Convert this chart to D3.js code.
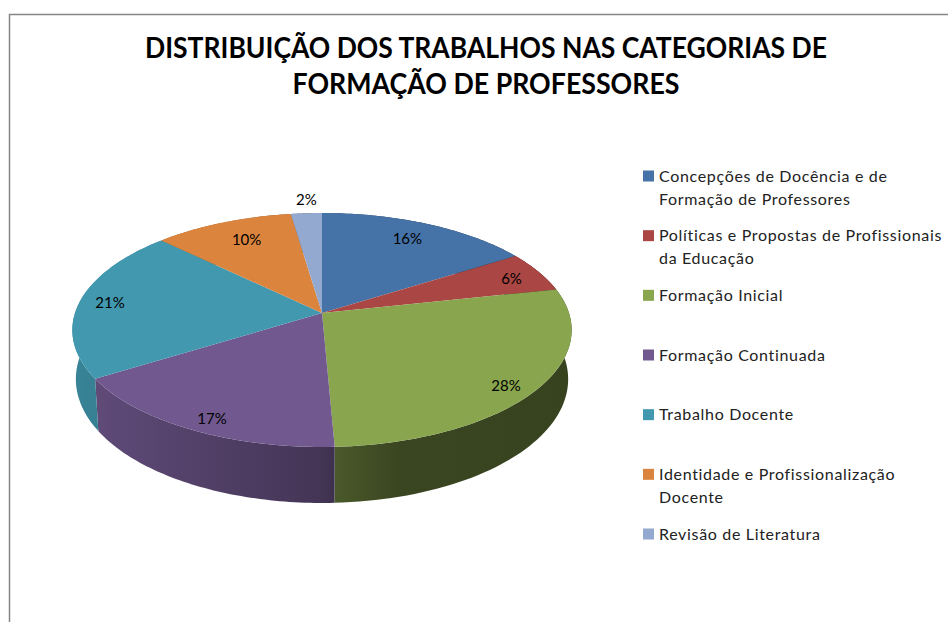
<!DOCTYPE html>
<html>
<head>
<meta charset="utf-8">
<script src="https://cdn.jsdelivr.net/npm/d3@7"></script>
<style>
  html, body { margin: 0; background: #fff; }
  text { font-family: Lato, "Open Sans", sans-serif; fill: #000; }
</style>
</head>
<body>
<svg id="chart" width="948" height="622"></svg>
<script>
const titleLines = ["DISTRIBUIÇÃO DOS TRABALHOS NAS CATEGORIAS DE", "FORMAÇÃO DE PROFESSORES"];
const categories = [
  ["Concepções de Docência e de", "Formação de Professores"],
  ["Políticas e Propostas de Profissionais", "da Educação"],
  ["Formação Inicial"],
  ["Formação Continuada"],
  ["Trabalho Docente"],
  ["Identidade e Profissionalização", "Docente"],
  ["Revisão de Literatura"]
];
// estimated from the slice edges, the printed labels are these rounded
const values = [16.0, 5.6, 27.7, 16.8, 21.2, 10.4, 2.3];
const colors = ["#4572A7", "#AA4643", "#89A54E", "#71588F", "#4198AF", "#DB843D", "#93A9CF"];

const svg = d3.select("#chart");
const defs = svg.append("defs");

// frame of the chart area, runs off the picture at right and bottom
svg.append("path")
  .attr("d", "M9.5,622V14.5H948")
  .attr("fill", "none")
  .attr("stroke", "#868686")
  .attr("stroke-width", 1.5);

// the original face is narrower than Lato, so squeeze to the measured widths
const titleWidths = [682, 387];

svg.selectAll(".title")
  .data(titleLines)
  .enter()
  .append("text")
  .attr("class", "title")
  .attr("x", 486)
  .attr("y", (d, i) => 58 + i * 36)
  .attr("text-anchor", "middle")
  .attr("font-size", 28)
  .attr("font-weight", 700)
  .attr("textLength", (d, i) => titleWidths[i])
  .attr("lengthAdjust", "spacingAndGlyphs")
  .text(d => d);

// perspective projection of the pie disc, apex at (322,313)
const cx = 322, cy = 313, k = 0.1453;
const topPoint = (a, r = 1) => {
  const u = r * Math.sin(a), v = -r * Math.cos(a);
  return [cx + 247 * u / (1 - k * v), cy + 114.5 * v / (1 - k * v)];
};
// rim of the base: slightly narrower, and nearer edges are taller
const basePoint = a => {
  const p = topPoint(a), v = -Math.cos(a);
  return [cx + (p[0] - cx) * 0.986, p[1] + 48 + 8 * v];
};

const line = d3.line();
const arcAngles = d => d3.range(0, 61).map(i => d.startAngle + (d.endAngle - d.startAngle) * i / 60);

const pie = d3.pie().sort(null).value(d => d);
const slices = pie(values);

// side lighting, same for all slices, as a share of the slice colour
const shade = d3.scaleLinear()
  .domain([76, 98, 320, 335, 400, 572])
  .range([0.86, 0.84, 0.6, 0.54, 0.42, 0.4]);

colors.forEach((c, i) => {
  const g = defs.append("linearGradient")
    .attr("id", "side" + i)
    .attr("gradientUnits", "userSpaceOnUse")
    .attr("x1", 76).attr("x2", 572)
    .attr("y1", 0).attr("y2", 0);
  shade.domain().forEach(x => {
    const rgb = d3.rgb(c);
    const s = shade(x);
    g.append("stop")
      .attr("offset", (x - 76) / 496)
      .attr("stop-color", d3.rgb(rgb.r * s, rgb.g * s, rgb.b * s).formatHex());
  });
});

svg.selectAll(".wall")
  .data(slices)
  .enter()
  .append("path")
  .attr("class", "wall")
  .attr("d", d => {
    const as = arcAngles(d);
    return line(as.map(a => topPoint(a)).concat(as.slice().reverse().map(basePoint))) + "Z";
  })
  .attr("fill", (d, i) => `url(#side${i})`);

svg.selectAll(".slice")
  .data(slices)
  .enter()
  .append("path")
  .attr("class", "slice")
  .attr("d", d => line([[cx, cy]].concat(arcAngles(d).map(a => topPoint(a)))) + "Z")
  .attr("fill", (d, i) => colors[i]);

// how far out along its mid angle each label sits, plus a small pixel nudge
const labelRadius = [0.82, 0.85, 0.89, 0.9, 0.875, 0.79, 1.155];
const labelNudge = [[-3, 0], [4, 1], [-5, 5], [7, 3], [0, 0], [5, 0], [2, 0]];

svg.selectAll(".pct")
  .data(slices)
  .enter()
  .append("text")
  .attr("class", "pct")
  .attr("transform", (d, i) => {
    const p = topPoint((d.startAngle + d.endAngle) / 2, labelRadius[i]);
    return `translate(${p[0] + labelNudge[i][0]},${p[1] + labelNudge[i][1]})`;
  })
  .attr("dy", "0.35em")
  .attr("text-anchor", "middle")
  .attr("font-size", 15)
  .text(d => Math.round(d.value) + "%");

// legend
const legendY = d3.scalePoint()
  .domain(d3.range(categories.length))
  .range([176, 534]);

const legend = svg.selectAll(".legend")
  .data(categories)
  .enter()
  .append("g")
  .attr("class", "legend")
  .attr("transform", (d, i) => `translate(643,${legendY(i)})`);

legend.append("rect")
  .attr("x", 0)
  .attr("y", -5.5)
  .attr("width", 11)
  .attr("height", 11)
  .attr("fill", (d, i) => colors[i]);

legend.selectAll("text")
  .data(d => d)
  .enter()
  .append("text")
  .attr("x", 16)
  .attr("y", (d, i) => i * 23)
  .attr("dy", "0.35em")
  .attr("font-size", 16)
  .attr("letter-spacing", 0.67)
  .style("fill", "#222")
  .text(d => d);
</script>
</body>
</html>
